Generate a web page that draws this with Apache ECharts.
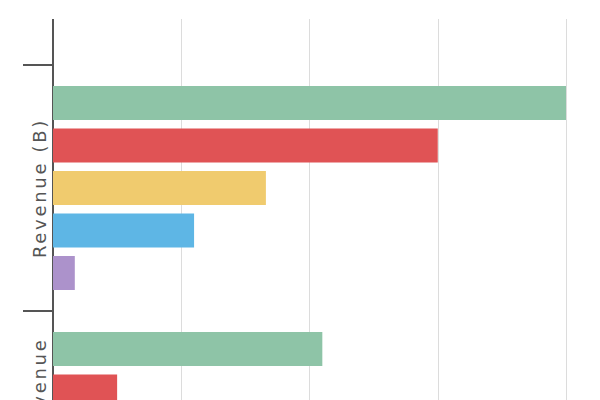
<!DOCTYPE html>
<html>
<head>
<meta charset="utf-8">
<script src="https://cdn.jsdelivr.net/npm/echarts@6/dist/echarts.min.js"></script>
<style>
  html, body { margin: 0; padding: 0; background: #fff; }
  /* the chart is shown cropped: the plot starts 19px down and runs past the bottom */
  #wrap {
    position: absolute; left: 0; top: 19px;
    width: 600px; height: 381px; overflow: hidden;
    letter-spacing: 2.7px;
  }
  #chart { width: 600px; height: 381px; }
</style>
</head>
<body>
<div id="wrap"><div id="chart"></div></div>
<script>
// categories top to bottom; the first one only peeks in above the visible area
const categories = ['Profit (B)', 'Revenue (B)', 'Product Revenue'];
const seriesNames = ['Company A', 'Company B', 'Company C', 'Company D', 'Company E'];
const colors = ['#8ec4a7', '#e05355', '#f0cb6e', '#5eb6e5', '#ac92cb'];

// one value per category, per series (null = not visible in the crop)
const companyA = [null, 200, 105];
const companyB = [null, 150, 25];
const companyC = [null, 83, null];
const companyD = [null, 55, null];
const companyE = [null, 8.5, null];
const seriesValues = [companyA, companyB, companyC, companyD, companyE];

const xTicks = { min: 0, max: 200, interval: 50 };

const chart = echarts.init(document.getElementById('chart'), null, { renderer: 'svg' });

// each category band is 246px tall; push the first band mostly above the top edge
const band = 246;
const firstVisible = 46;

chart.setOption({
  animation: false,
  grid: {
    left: 53,
    right: 34,
    top: firstVisible - band,
    height: band * categories.length,
    containLabel: false,
    outerBoundsMode: 'none'
  },
  xAxis: {
    type: 'value',
    min: xTicks.min,
    max: xTicks.max,
    interval: xTicks.interval,
    axisLine: { show: false },
    axisTick: { show: false },
    axisLabel: { show: false },
    splitLine: { lineStyle: { color: '#dcdcdc', width: 1 } }
  },
  yAxis: {
    type: 'category',
    inverse: true,
    data: categories,
    axisLine: { show: true, onZero: false, lineStyle: { color: '#555', width: 2 } },
    axisTick: {
      show: true,
      interval: 0,
      alignWithLabel: false,
      length: 30,
      lineStyle: { color: '#555', width: 2 }
    },
    axisLabel: {
      interval: 0,
      rotate: 90,
      margin: 5,
      fontSize: 18,
      color: '#555',
      fontFamily: 'DejaVu Sans'
    }
  },
  series: seriesNames.map((name, i) => ({
    name: name,
    type: 'bar',
    data: seriesValues[i],
    barWidth: 34,
    barGap: '25%',
    itemStyle: { color: colors[i] }
  }))
});
</script>
</body>
</html>
